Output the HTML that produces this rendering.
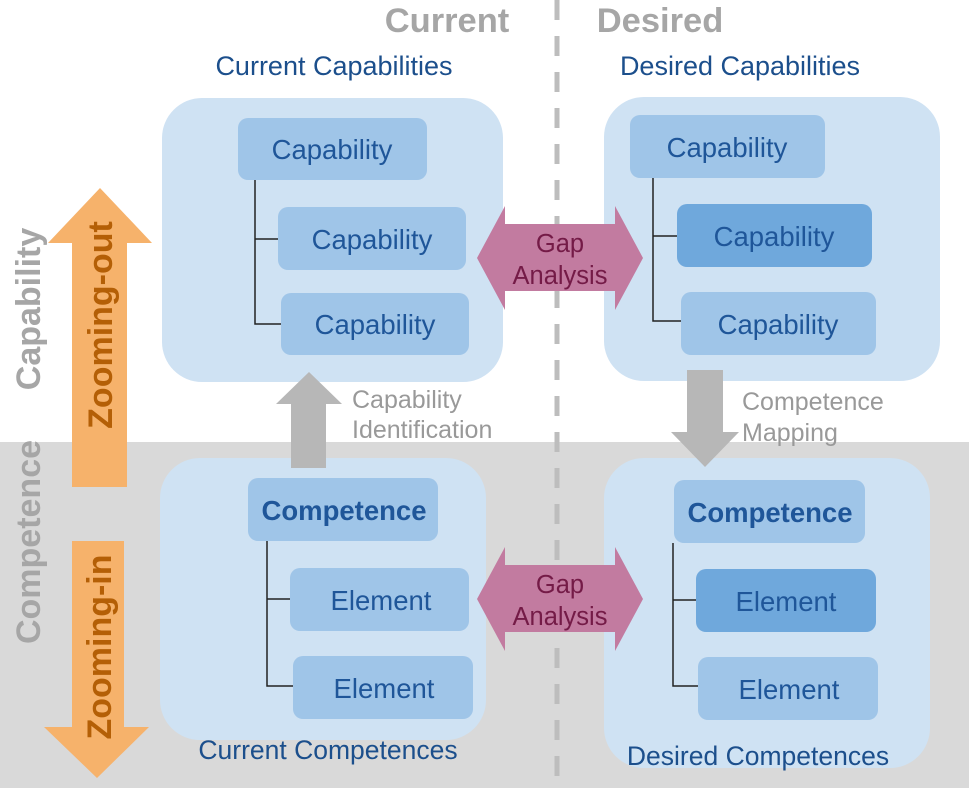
<!DOCTYPE html>
<html><head><meta charset="utf-8"><style>
html,body{margin:0;padding:0;background:#fff}
svg text{font-family:"Liberation Sans",Arial,sans-serif}
</style></head><body>
<svg width="969" height="788" viewBox="0 0 969 788" xmlns="http://www.w3.org/2000/svg">
<rect x="0" y="442" width="969" height="346" fill="#d9d9d9"/>
<line x1="557" y1="0" x2="557" y2="788" stroke="#bdbdbd" stroke-width="5" stroke-dasharray="20,16"/>
<text x="447" y="32" font-size="34.5" font-weight="bold" fill="#a6a6a6" text-anchor="middle">Current</text>
<text x="660" y="32" font-size="34.5" font-weight="bold" fill="#a6a6a6" text-anchor="middle">Desired</text>
<text x="334" y="75" font-size="27" fill="#1c4f8c" text-anchor="middle">Current Capabilities</text>
<text x="740" y="75" font-size="27" fill="#1c4f8c" text-anchor="middle">Desired Capabilities</text>

<rect x="162" y="98" width="341" height="284" rx="40" fill="#cfe2f3"/>
<rect x="604" y="97" width="336" height="284" rx="40" fill="#cfe2f3"/>
<rect x="160" y="458" width="326" height="282" rx="40" fill="#cfe2f3"/>
<rect x="604" y="458" width="326" height="310" rx="40" fill="#cfe2f3"/>

<g stroke="#222" stroke-width="1.5" fill="none">
<path d="M255 180 V324 H281 M255 239 H278"/>
<path d="M653 178 V321 H681 M653 236 H677"/>
<path d="M267 541 V686 H293 M267 599 H290"/>
<path d="M673 543 V686 H698 M673 600 H696"/>
</g>

<g font-size="27.5" fill="#1f5699" text-anchor="middle">
<rect x="238" y="118" width="189" height="62" rx="10" fill="#9fc5e8"/>
<text x="332" y="159">Capability</text>
<rect x="278" y="207" width="188" height="63" rx="10" fill="#9fc5e8"/>
<text x="372" y="249">Capability</text>
<rect x="281" y="293" width="188" height="62" rx="10" fill="#9fc5e8"/>
<text x="375" y="334">Capability</text>

<rect x="630" y="115" width="195" height="63" rx="10" fill="#9fc5e8"/>
<text x="727" y="157">Capability</text>
<rect x="677" y="204" width="195" height="63" rx="10" fill="#6fa8dc"/>
<text x="774" y="246">Capability</text>
<rect x="681" y="292" width="195" height="63" rx="10" fill="#9fc5e8"/>
<text x="778" y="334">Capability</text>

<rect x="248" y="478" width="190" height="63" rx="10" fill="#9fc5e8"/>
<text x="344" y="520" font-weight="bold" font-size="27.5">Competence</text>
<rect x="290" y="568" width="179" height="63" rx="10" fill="#9fc5e8"/>
<text x="381" y="610">Element</text>
<rect x="293" y="656" width="180" height="63" rx="10" fill="#9fc5e8"/>
<text x="384" y="698">Element</text>

<rect x="674" y="480" width="191" height="63" rx="10" fill="#9fc5e8"/>
<text x="770" y="522" font-weight="bold" font-size="27.5">Competence</text>
<rect x="696" y="569" width="180" height="63" rx="10" fill="#6fa8dc"/>
<text x="786" y="611">Element</text>
<rect x="698" y="657" width="180" height="63" rx="10" fill="#9fc5e8"/>
<text x="789" y="699">Element</text>
</g>

<text x="328" y="759" font-size="26.5" fill="#1c4f8c" text-anchor="middle">Current Competences</text>
<text x="758" y="765" font-size="26.5" fill="#1c4f8c" text-anchor="middle">Desired Competences</text>

<polygon points="477,258 505,206 505,224 615,224 615,206 643,258 615,310 615,291 505,291 505,310" fill="#c27ba0"/>
<polygon points="477,599 505,547 505,565 615,565 615,547 643,599 615,651 615,632 505,632 505,651" fill="#c27ba0"/>
<g font-size="25.5" fill="#741b47" text-anchor="middle">
<text x="560" y="252">Gap</text><text x="560" y="284">Analysis</text>
<text x="560" y="593">Gap</text><text x="560" y="625">Analysis</text>
</g>

<polygon points="309,372 342,404 326,404 326,468 291,468 291,404 276,404" fill="#b7b7b7"/>
<polygon points="687,370 723,370 723,432 739,432 705,467 671,432 687,432" fill="#b7b7b7"/>
<g font-size="25" fill="#999">
<text x="352" y="408">Capability</text><text x="352" y="438">Identification</text>
<text x="742" y="410">Competence</text><text x="742" y="441">Mapping</text>
</g>

<polygon points="100,188 152,243 127,243 127,487 72,487 72,243 48,243" fill="#f6b26b"/>
<polygon points="72,541 124,541 124,727 149,727 97,778 44,727 72,727" fill="#f6b26b"/>
<text transform="translate(112,325) rotate(-90)" font-size="34" font-weight="bold" fill="#b45f06" text-anchor="middle">Zooming-out</text>
<text transform="translate(111,647) rotate(-90)" font-size="34" font-weight="bold" fill="#b45f06" text-anchor="middle">Zooming-in</text>
<text transform="translate(40,309) rotate(-90)" font-size="34" font-weight="bold" fill="#a6a6a6" text-anchor="middle">Capability</text>
<text transform="translate(40,542) rotate(-90)" font-size="34" font-weight="bold" fill="#a6a6a6" text-anchor="middle">Competence</text>
</svg>
</body></html>
